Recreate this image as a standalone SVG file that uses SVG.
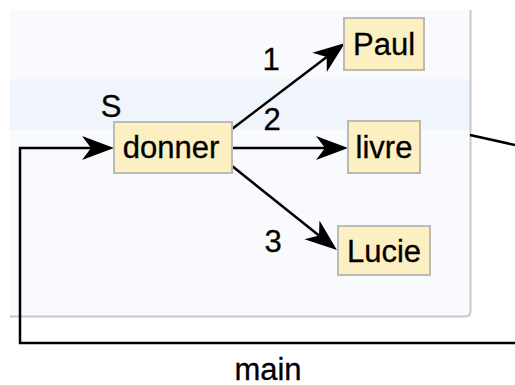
<svg xmlns="http://www.w3.org/2000/svg" width="515" height="385" viewBox="0 0 515 385">
  <style>
    text { font-family: "Liberation Sans", Arial, sans-serif; font-size: 31px; fill: #000; stroke: #000; stroke-width: 0.3; }
    .node rect { fill: #fcefc2; stroke: #bdbbad; stroke-width: 2; }
    .edge { fill: none; stroke: #000; stroke-width: 2.5; }
  </style>
  <defs>
    <marker id="arrow" markerUnits="userSpaceOnUse" markerWidth="34" markerHeight="26" refX="9" refY="13" orient="auto">
      <path d="M0,1 L32,13 L0,25 L9,13 Z" fill="#000"/>
    </marker>
  </defs>

  <!-- panel -->
  <g id="panel">
    <rect x="10" y="10" width="461" height="307" fill="#f8fafd"/>
    <rect x="10" y="79" width="460" height="51" fill="#f0f4fb"/>
    <path d="M470.5,10 V311 Q470.5,316.5 465,316.5 H10" fill="none" stroke="#c8c8c8" stroke-width="2"/>
  </g>

  <!-- connectors -->
  <g id="connectors">
    <path class="edge" d="M515,343 H20 V148 H91" marker-end="url(#arrow)"/>
    <path class="edge" d="M232,129 L326.7,56.9" marker-end="url(#arrow)"/>
    <path class="edge" d="M232,148 L325,148" marker-end="url(#arrow)"/>
    <path class="edge" d="M232,166 L319,235.6" marker-end="url(#arrow)"/>
    <path class="edge" d="M470,135 L515,145"/>
  </g>

  <!-- edge labels -->
  <g id="labels">
    <text x="111" y="117" text-anchor="middle">S</text>
    <text x="271" y="70" text-anchor="middle">1</text>
    <text x="272" y="130" text-anchor="middle">2</text>
    <text x="273" y="252" text-anchor="middle">3</text>
    <text x="268" y="380" text-anchor="middle">main</text>
  </g>

  <!-- nodes -->
  <g id="donner" class="node">
    <rect x="114" y="122" width="118" height="51"/>
    <text x="171" y="158" text-anchor="middle">donner</text>
  </g>
  <g id="paul" class="node">
    <rect x="344" y="18" width="80" height="52"/>
    <text x="384" y="55" text-anchor="middle">Paul</text>
  </g>
  <g id="livre" class="node">
    <rect x="348" y="121" width="72" height="52"/>
    <text x="384" y="158" text-anchor="middle">livre</text>
  </g>
  <g id="lucie" class="node">
    <rect x="338" y="226" width="92" height="49"/>
    <text x="384" y="262" text-anchor="middle">Lucie</text>
  </g>
</svg>
